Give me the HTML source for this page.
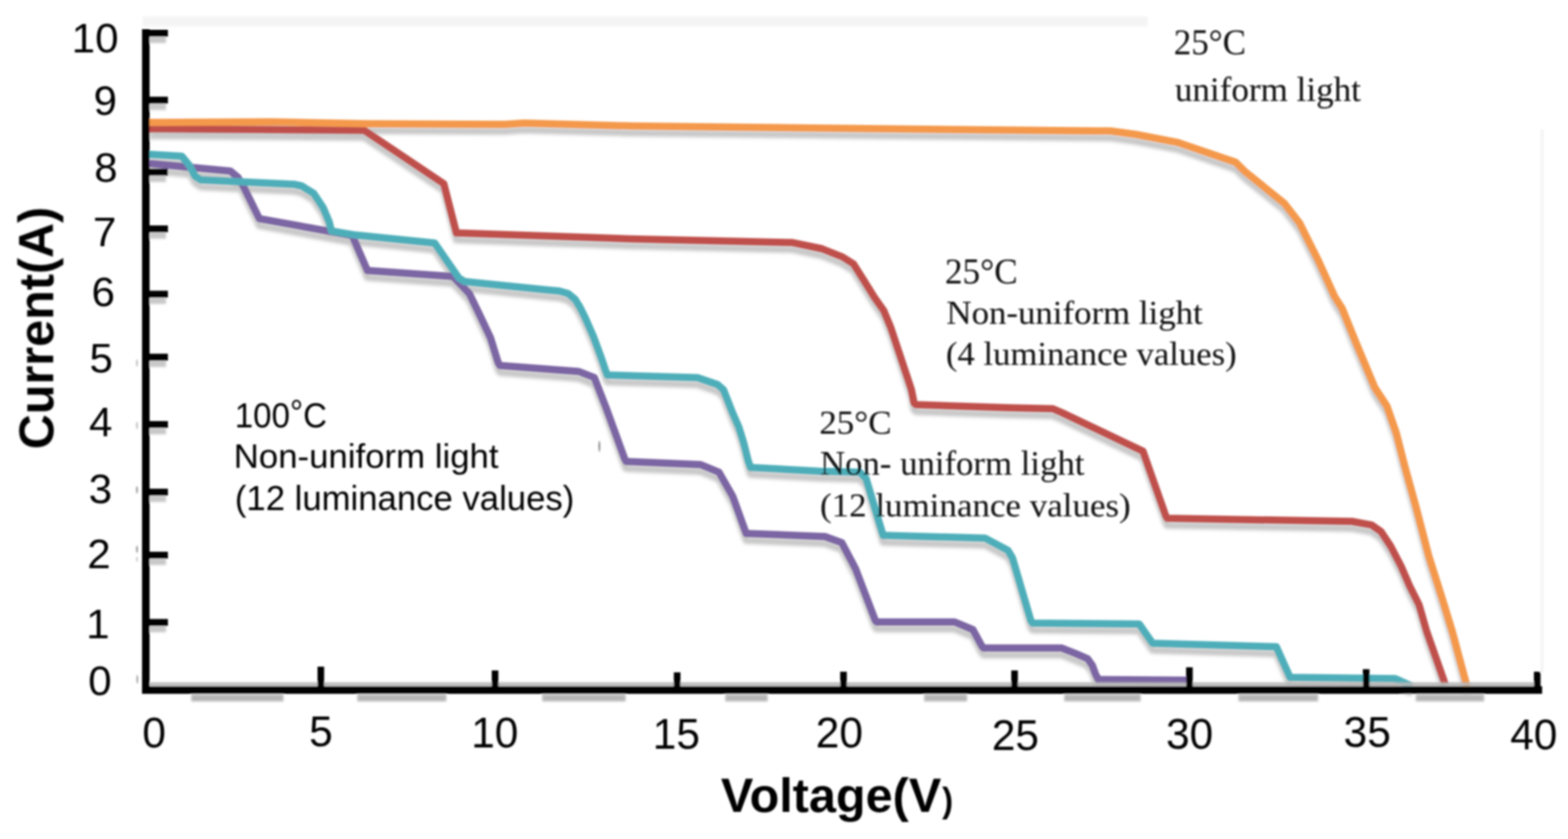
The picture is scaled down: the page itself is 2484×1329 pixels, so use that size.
<!DOCTYPE html>
<html><head><meta charset="utf-8"><title>I-V curves</title>
<style>html,body{margin:0;padding:0;background:#fff;overflow:hidden}svg{display:block}</style>
</head><body>
<svg width="2484" height="1329" viewBox="0 0 2484 1329">
<defs>
<filter id="sh" x="-5%" y="-5%" width="110%" height="115%"><feGaussianBlur stdDeviation="2.5"/></filter>
<filter id="bl" x="-5%" y="-50%" width="110%" height="200%"><feGaussianBlur stdDeviation="1.5"/></filter>
<filter id="soft" filterUnits="userSpaceOnUse" x="0" y="0" width="2484" height="1329"><feGaussianBlur stdDeviation="1.4"/></filter>
</defs>
<rect width="2484" height="1329" fill="#fff"/>
<g filter="url(#soft)">
<rect x="226" y="26" width="1592" height="16" fill="#f4f4f4" filter="url(#bl)"/>
<rect x="2440" y="205" width="6" height="860" fill="#f6f6f6"/>
<g fill="#8a8a8a">
<ellipse cx="217" cy="575" rx="1.6" ry="6" opacity="0.5"/>
<ellipse cx="217" cy="674" rx="1.6" ry="6" opacity="0.5"/>
<ellipse cx="217" cy="776" rx="1.6" ry="6" opacity="0.8"/>
<ellipse cx="217" cy="870" rx="1.6" ry="6" opacity="0.8"/>
<ellipse cx="217" cy="886" rx="1.6" ry="4" opacity="0.4"/>
<ellipse cx="217.5" cy="1076" rx="1.6" ry="7" opacity="0.7"/>
<ellipse cx="949.5" cy="707" rx="1.6" ry="9" opacity="0.9"/>
</g>
<g fill="none" stroke="#b9b9b9" stroke-width="11" stroke-linejoin="round" stroke-linecap="butt" filter="url(#sh)" transform="translate(0,11)" opacity="0.8">
<path d="M237.0,259.0 L365.0,271.0 L377.0,281.0 L386.0,296.0 L410.8,346.3 L558.0,373.0 L582.0,428.5 L717.6,438.0 L743.5,465.0 L760.0,499.0 L777.0,535.0 L789.0,574.0 L792.0,579.0 L917.0,588.5 L941.5,598.0 L960.4,646.6 L989.4,726.3 L992.0,731.0 L1110.0,736.0 L1139.0,748.0 L1161.0,786.7 L1182.0,845.0 L1307.0,850.0 L1333.6,859.7 L1355.3,900.8 L1386.7,983.0 L1389.0,985.3 L1512.3,985.3 L1541.3,997.4 L1555.8,1024.0 L1558.0,1026.4 L1681.4,1026.4 L1703.5,1035.0 L1723.0,1043.5 L1730.5,1054.0 L1735.4,1067.6 L1740.0,1076.5 L1879.5,1077.5"/>
<path d="M237.0,244.5 L288.0,247.5 L300.0,262.0 L309.0,279.0 L318.0,285.0 L466.0,292.0 L478.0,294.5 L497.0,306.4 L512.0,329.0 L521.5,351.6 L525.0,366.0 L563.0,372.3 L688.6,385.0 L727.0,440.5 L736.0,446.0 L869.0,459.5 L886.0,461.0 L900.0,465.0 L911.0,474.0 L919.0,487.0 L927.3,503.7 L940.0,532.7 L953.0,568.0 L959.5,587.5 L962.0,594.0 L1105.0,598.3 L1137.0,609.3 L1146.2,617.6 L1159.8,652.2 L1170.3,676.3 L1177.8,700.4 L1185.4,730.5 L1189.0,740.5 L1298.6,746.5 L1362.0,748.0 L1372.0,758.0 L1392.0,825.0 L1399.0,848.0 L1560.6,852.5 L1596.9,871.8 L1604.0,884.0 L1633.0,983.0 L1636.0,987.0 L1804.6,988.4 L1826.0,1019.0 L2022.0,1024.6 L2043.7,1073.0 L2210.4,1075.0 L2237.0,1087.0"/>
<path d="M237.0,204.0 L577.0,206.5 L703.0,291.0 L723.0,369.0 L1000.0,378.5 L1255.6,384.3 L1301.8,394.0 L1334.5,407.0 L1352.0,418.0 L1367.2,442.0 L1384.7,470.3 L1400.0,492.0 L1410.9,518.3 L1421.8,551.0 L1432.7,583.7 L1443.6,616.5 L1448.0,638.3 L1451.0,641.0 L1600.0,646.0 L1668.0,647.5 L1683.0,654.0 L1810.7,714.8 L1846.5,816.4 L1849.0,821.0 L2142.0,826.0 L2172.7,831.6 L2187.7,842.0 L2202.8,864.7 L2219.3,896.3 L2233.0,928.0 L2248.0,958.0 L2260.0,1000.0 L2289.5,1084.0"/>
<path d="M237.0,194.0 L430.0,193.0 L580.0,196.0 L800.0,197.0 L830.0,195.0 L1000.0,199.5 L1400.0,204.0 L1760.0,207.5 L1800.0,213.0 L1865.7,225.6 L1957.5,257.0 L1972.0,271.4 L2034.8,322.2 L2059.0,353.6 L2073.4,382.6 L2088.0,411.5 L2114.5,470.0 L2126.0,488.0 L2147.0,540.0 L2178.0,614.0 L2197.0,643.0 L2211.7,685.0 L2225.8,740.0 L2243.2,803.0 L2263.2,880.0 L2285.5,950.5 L2300.6,1000.0 L2321.0,1076.0 L2324.0,1088.0"/>
</g>
<path d="M237.0,259.0 L365.0,271.0 L377.0,281.0 L386.0,296.0 L410.8,346.3 L558.0,373.0 L582.0,428.5 L717.6,438.0 L743.5,465.0 L760.0,499.0 L777.0,535.0 L789.0,574.0 L792.0,579.0 L917.0,588.5 L941.5,598.0 L960.4,646.6 L989.4,726.3 L992.0,731.0 L1110.0,736.0 L1139.0,748.0 L1161.0,786.7 L1182.0,845.0 L1307.0,850.0 L1333.6,859.7 L1355.3,900.8 L1386.7,983.0 L1389.0,985.3 L1512.3,985.3 L1541.3,997.4 L1555.8,1024.0 L1558.0,1026.4 L1681.4,1026.4 L1703.5,1035.0 L1723.0,1043.5 L1730.5,1054.0 L1735.4,1067.6 L1740.0,1076.5 L1879.5,1077.5" fill="none" stroke="#7B65A3" stroke-width="11.5" stroke-linejoin="round" stroke-linecap="butt"/>
<path d="M237.0,244.5 L288.0,247.5 L300.0,262.0 L309.0,279.0 L318.0,285.0 L466.0,292.0 L478.0,294.5 L497.0,306.4 L512.0,329.0 L521.5,351.6 L525.0,366.0 L563.0,372.3 L688.6,385.0 L727.0,440.5 L736.0,446.0 L869.0,459.5 L886.0,461.0 L900.0,465.0 L911.0,474.0 L919.0,487.0 L927.3,503.7 L940.0,532.7 L953.0,568.0 L959.5,587.5 L962.0,594.0 L1105.0,598.3 L1137.0,609.3 L1146.2,617.6 L1159.8,652.2 L1170.3,676.3 L1177.8,700.4 L1185.4,730.5 L1189.0,740.5 L1298.6,746.5 L1362.0,748.0 L1372.0,758.0 L1392.0,825.0 L1399.0,848.0 L1560.6,852.5 L1596.9,871.8 L1604.0,884.0 L1633.0,983.0 L1636.0,987.0 L1804.6,988.4 L1826.0,1019.0 L2022.0,1024.6 L2043.7,1073.0 L2210.4,1075.0 L2237.0,1087.0" fill="none" stroke="#4DAEB9" stroke-width="11.5" stroke-linejoin="round" stroke-linecap="butt"/>
<path d="M237.0,204.0 L577.0,206.5 L703.0,291.0 L723.0,369.0 L1000.0,378.5 L1255.6,384.3 L1301.8,394.0 L1334.5,407.0 L1352.0,418.0 L1367.2,442.0 L1384.7,470.3 L1400.0,492.0 L1410.9,518.3 L1421.8,551.0 L1432.7,583.7 L1443.6,616.5 L1448.0,638.3 L1451.0,641.0 L1600.0,646.0 L1668.0,647.5 L1683.0,654.0 L1810.7,714.8 L1846.5,816.4 L1849.0,821.0 L2142.0,826.0 L2172.7,831.6 L2187.7,842.0 L2202.8,864.7 L2219.3,896.3 L2233.0,928.0 L2248.0,958.0 L2260.0,1000.0 L2289.5,1084.0" fill="none" stroke="#BF504C" stroke-width="11.5" stroke-linejoin="round" stroke-linecap="butt"/>
<path d="M237.0,194.0 L430.0,193.0 L580.0,196.0 L800.0,197.0 L830.0,195.0 L1000.0,199.5 L1400.0,204.0 L1760.0,207.5 L1800.0,213.0 L1865.7,225.6 L1957.5,257.0 L1972.0,271.4 L2034.8,322.2 L2059.0,353.6 L2073.4,382.6 L2088.0,411.5 L2114.5,470.0 L2126.0,488.0 L2147.0,540.0 L2178.0,614.0 L2197.0,643.0 L2211.7,685.0 L2225.8,740.0 L2243.2,803.0 L2263.2,880.0 L2285.5,950.5 L2300.6,1000.0 L2321.0,1076.0 L2324.0,1088.0" fill="none" stroke="#F4994B" stroke-width="11.5" stroke-linejoin="round" stroke-linecap="butt"/>
<g fill="#b6b6b6" filter="url(#bl)">
<rect x="237" y="1081" width="2195" height="6"/>
<rect x="303" y="1100" width="146" height="11"/>
<rect x="566" y="1100" width="141" height="11"/>
<rect x="859" y="1100" width="132" height="11"/>
<rect x="1149" y="1100" width="67" height="11"/>
<rect x="1464" y="1100" width="68" height="11"/>
<rect x="1686" y="1100" width="121" height="11"/>
<rect x="1962" y="1100" width="126" height="11"/>
<rect x="2243" y="1100" width="108" height="11"/>
</g>
<g fill="#c8c8c8" filter="url(#bl)">
<rect x="237" y="58.1" width="26" height="10"/>
<rect x="237" y="164.2" width="26" height="10"/>
<rect x="237" y="278.2" width="26" height="10"/>
<rect x="237" y="368.1" width="26" height="10"/>
<rect x="237" y="471.5" width="26" height="10"/>
<rect x="237" y="571.3" width="26" height="10"/>
<rect x="237" y="678.0" width="26" height="10"/>
<rect x="237" y="785.1" width="26" height="10"/>
<rect x="237" y="885.0" width="26" height="10"/>
<rect x="237" y="991.5" width="26" height="10"/>
</g>
<g fill="#000">
<rect x="225" y="46" width="12" height="1053"/>
<rect x="225" y="1087" width="2218" height="12"/>
<rect x="232" y="47.1" width="34" height="11"/>
<rect x="232" y="153.2" width="34" height="11"/>
<rect x="232" y="267.2" width="34" height="11"/>
<rect x="232" y="357.1" width="34" height="11"/>
<rect x="232" y="460.5" width="34" height="11"/>
<rect x="232" y="560.3" width="34" height="11"/>
<rect x="232" y="667.0" width="34" height="11"/>
<rect x="232" y="774.1" width="34" height="11"/>
<rect x="232" y="874.0" width="34" height="11"/>
<rect x="232" y="980.5" width="34" height="11"/>
<rect x="503.0" y="1056" width="10.5" height="37"/>
<rect x="779.0" y="1062" width="10.5" height="31"/>
<rect x="1067.5" y="1065" width="10.5" height="28"/>
<rect x="1331.0" y="1064" width="10.5" height="29"/>
<rect x="1602.0" y="1062" width="10.5" height="31"/>
<rect x="1879.0" y="1057" width="10.5" height="36"/>
<rect x="2159.0" y="1060" width="10.5" height="33"/>
<rect x="2430.0" y="1064" width="10.5" height="29"/>
</g>
<g transform="matrix(0.9526,0,0,0.9339,113.55,82.83)"><text x="0" y="0" font-family="'Liberation Sans', sans-serif" font-size="70" font-weight="normal" fill="#000">10</text></g>
<g transform="matrix(0.9526,0,0,0.9339,148.27,182.43)"><text x="0" y="0" font-family="'Liberation Sans', sans-serif" font-size="70" font-weight="normal" fill="#000">9</text></g>
<g transform="matrix(0.9526,0,0,0.9339,149.32,287.53)"><text x="0" y="0" font-family="'Liberation Sans', sans-serif" font-size="70" font-weight="normal" fill="#000">8</text></g>
<g transform="matrix(0.9526,0,0,0.9339,147.37,390.48)"><text x="0" y="0" font-family="'Liberation Sans', sans-serif" font-size="70" font-weight="normal" fill="#000">7</text></g>
<g transform="matrix(0.9526,0,0,0.9339,144.90,485.18)"><text x="0" y="0" font-family="'Liberation Sans', sans-serif" font-size="70" font-weight="normal" fill="#000">6</text></g>
<g transform="matrix(0.9526,0,0,0.9339,141.77,589.63)"><text x="0" y="0" font-family="'Liberation Sans', sans-serif" font-size="70" font-weight="normal" fill="#000">5</text></g>
<g transform="matrix(0.9526,0,0,0.9339,141.07,690.63)"><text x="0" y="0" font-family="'Liberation Sans', sans-serif" font-size="70" font-weight="normal" fill="#000">4</text></g>
<g transform="matrix(0.9526,0,0,0.9339,140.42,796.98)"><text x="0" y="0" font-family="'Liberation Sans', sans-serif" font-size="70" font-weight="normal" fill="#000">3</text></g>
<g transform="matrix(0.9526,0,0,0.9339,138.32,899.88)"><text x="0" y="0" font-family="'Liberation Sans', sans-serif" font-size="70" font-weight="normal" fill="#000">2</text></g>
<g transform="matrix(0.9526,0,0,0.9339,136.52,1010.68)"><text x="0" y="0" font-family="'Liberation Sans', sans-serif" font-size="70" font-weight="normal" fill="#000">1</text></g>
<g transform="matrix(0.9526,0,0,0.9339,139.72,1100.63)"><text x="0" y="0" font-family="'Liberation Sans', sans-serif" font-size="70" font-weight="normal" fill="#000">0</text></g>
<g transform="matrix(0.9463,0,0,0.9673,225.42,1183.65)"><text x="0" y="0" font-family="'Liberation Sans', sans-serif" font-size="71" font-weight="normal" fill="#000">0</text></g>
<g transform="matrix(0.9463,0,0,0.9673,489.80,1182.40)"><text x="0" y="0" font-family="'Liberation Sans', sans-serif" font-size="71" font-weight="normal" fill="#000">5</text></g>
<g transform="matrix(0.9463,0,0,0.9673,746.47,1183.65)"><text x="0" y="0" font-family="'Liberation Sans', sans-serif" font-size="71" font-weight="normal" fill="#000">10</text></g>
<g transform="matrix(0.9463,0,0,0.9673,1034.12,1186.50)"><text x="0" y="0" font-family="'Liberation Sans', sans-serif" font-size="71" font-weight="normal" fill="#000">15</text></g>
<g transform="matrix(0.9463,0,0,0.9673,1292.30,1183.65)"><text x="0" y="0" font-family="'Liberation Sans', sans-serif" font-size="71" font-weight="normal" fill="#000">20</text></g>
<g transform="matrix(0.9463,0,0,0.9673,1571.20,1188.15)"><text x="0" y="0" font-family="'Liberation Sans', sans-serif" font-size="71" font-weight="normal" fill="#000">25</text></g>
<g transform="matrix(0.9463,0,0,0.9673,1847.22,1185.60)"><text x="0" y="0" font-family="'Liberation Sans', sans-serif" font-size="71" font-weight="normal" fill="#000">30</text></g>
<g transform="matrix(0.9463,0,0,0.9673,2128.62,1183.35)"><text x="0" y="0" font-family="'Liberation Sans', sans-serif" font-size="71" font-weight="normal" fill="#000">35</text></g>
<g transform="matrix(0.9463,0,0,0.9673,2392.44,1187.25)"><text x="0" y="0" font-family="'Liberation Sans', sans-serif" font-size="71" font-weight="normal" fill="#000">40</text></g>
<g transform="matrix(1.0125,0,0,0.9972,1141.89,1286.15)"><text x="0" y="0" font-family="'Liberation Sans', sans-serif" font-size="76" font-weight="bold" fill="#000">Voltage(V</text></g>
<g transform="matrix(0.9667,0,0,1.0140,1492.60,1286.15)"><text x="0" y="0" font-family="'Liberation Sans', sans-serif" font-size="54" font-weight="bold" fill="#000">)</text></g>
<g transform="matrix(1.0296,0,0,1.0113,84.33,711.63)"><text x="0" y="0" transform="rotate(-90)" font-family="'Liberation Sans', sans-serif" font-size="76" font-weight="bold" fill="#000">Current(A)</text></g>
<g transform="matrix(0.9510,0,0,1.0250,372.00,676.90)"><text x="0" y="0" font-family="'Liberation Sans', sans-serif" font-size="55" font-weight="normal" fill="#000">100<tspan dy="-5">°</tspan><tspan dy="5">C</tspan></text></g>
<g transform="matrix(1.0019,0,0,0.9654,370.19,740.62)"><text x="0" y="0" font-family="'Liberation Sans', sans-serif" font-size="55" font-weight="normal" fill="#000">Non-uniform light</text></g>
<g transform="matrix(0.9996,0,0,1.0096,372.00,807.68)"><text x="0" y="0" font-family="'Liberation Sans', sans-serif" font-size="55" font-weight="normal" fill="#000">(12 luminance values)</text></g>
<g transform="matrix(1.0046,0,0,1.0270,1859.59,85.70)"><text x="0" y="0" font-family="'Liberation Serif', serif" font-size="55" font-weight="normal" fill="#0a0a0a">25°C</text></g>
<g transform="matrix(1.0107,0,0,0.9961,1861.19,160.05)"><text x="0" y="0" font-family="'Liberation Serif', serif" font-size="55" font-weight="normal" fill="#0a0a0a">uniform light</text></g>
<g transform="matrix(1.0147,0,0,1.0378,1496.97,448.90)"><text x="0" y="0" font-family="'Liberation Serif', serif" font-size="55" font-weight="normal" fill="#0a0a0a">25°C</text></g>
<g transform="matrix(1.0035,0,0,0.9765,1499.29,513.28)"><text x="0" y="0" font-family="'Liberation Serif', serif" font-size="55" font-weight="normal" fill="#0a0a0a">Non-uniform light</text></g>
<g transform="matrix(0.9989,0,0,0.9673,1498.50,578.16)"><text x="0" y="0" font-family="'Liberation Serif', serif" font-size="55" font-weight="normal" fill="#0a0a0a">(4 luminance values)</text></g>
<g transform="matrix(1.0083,0,0,0.9595,1297.88,686.50)"><text x="0" y="0" font-family="'Liberation Serif', serif" font-size="55" font-weight="normal" fill="#0a0a0a">25°C</text></g>
<g transform="matrix(1.0012,0,0,0.9804,1299.00,752.24)"><text x="0" y="0" font-family="'Liberation Serif', serif" font-size="55" font-weight="normal" fill="#0a0a0a">Non- uniform light</text></g>
<g transform="matrix(1.0076,0,0,0.9612,1298.98,818.33)"><text x="0" y="0" font-family="'Liberation Serif', serif" font-size="55" font-weight="normal" fill="#0a0a0a">(12 luminance values)</text></g>
</g>
</svg>
</body></html>
